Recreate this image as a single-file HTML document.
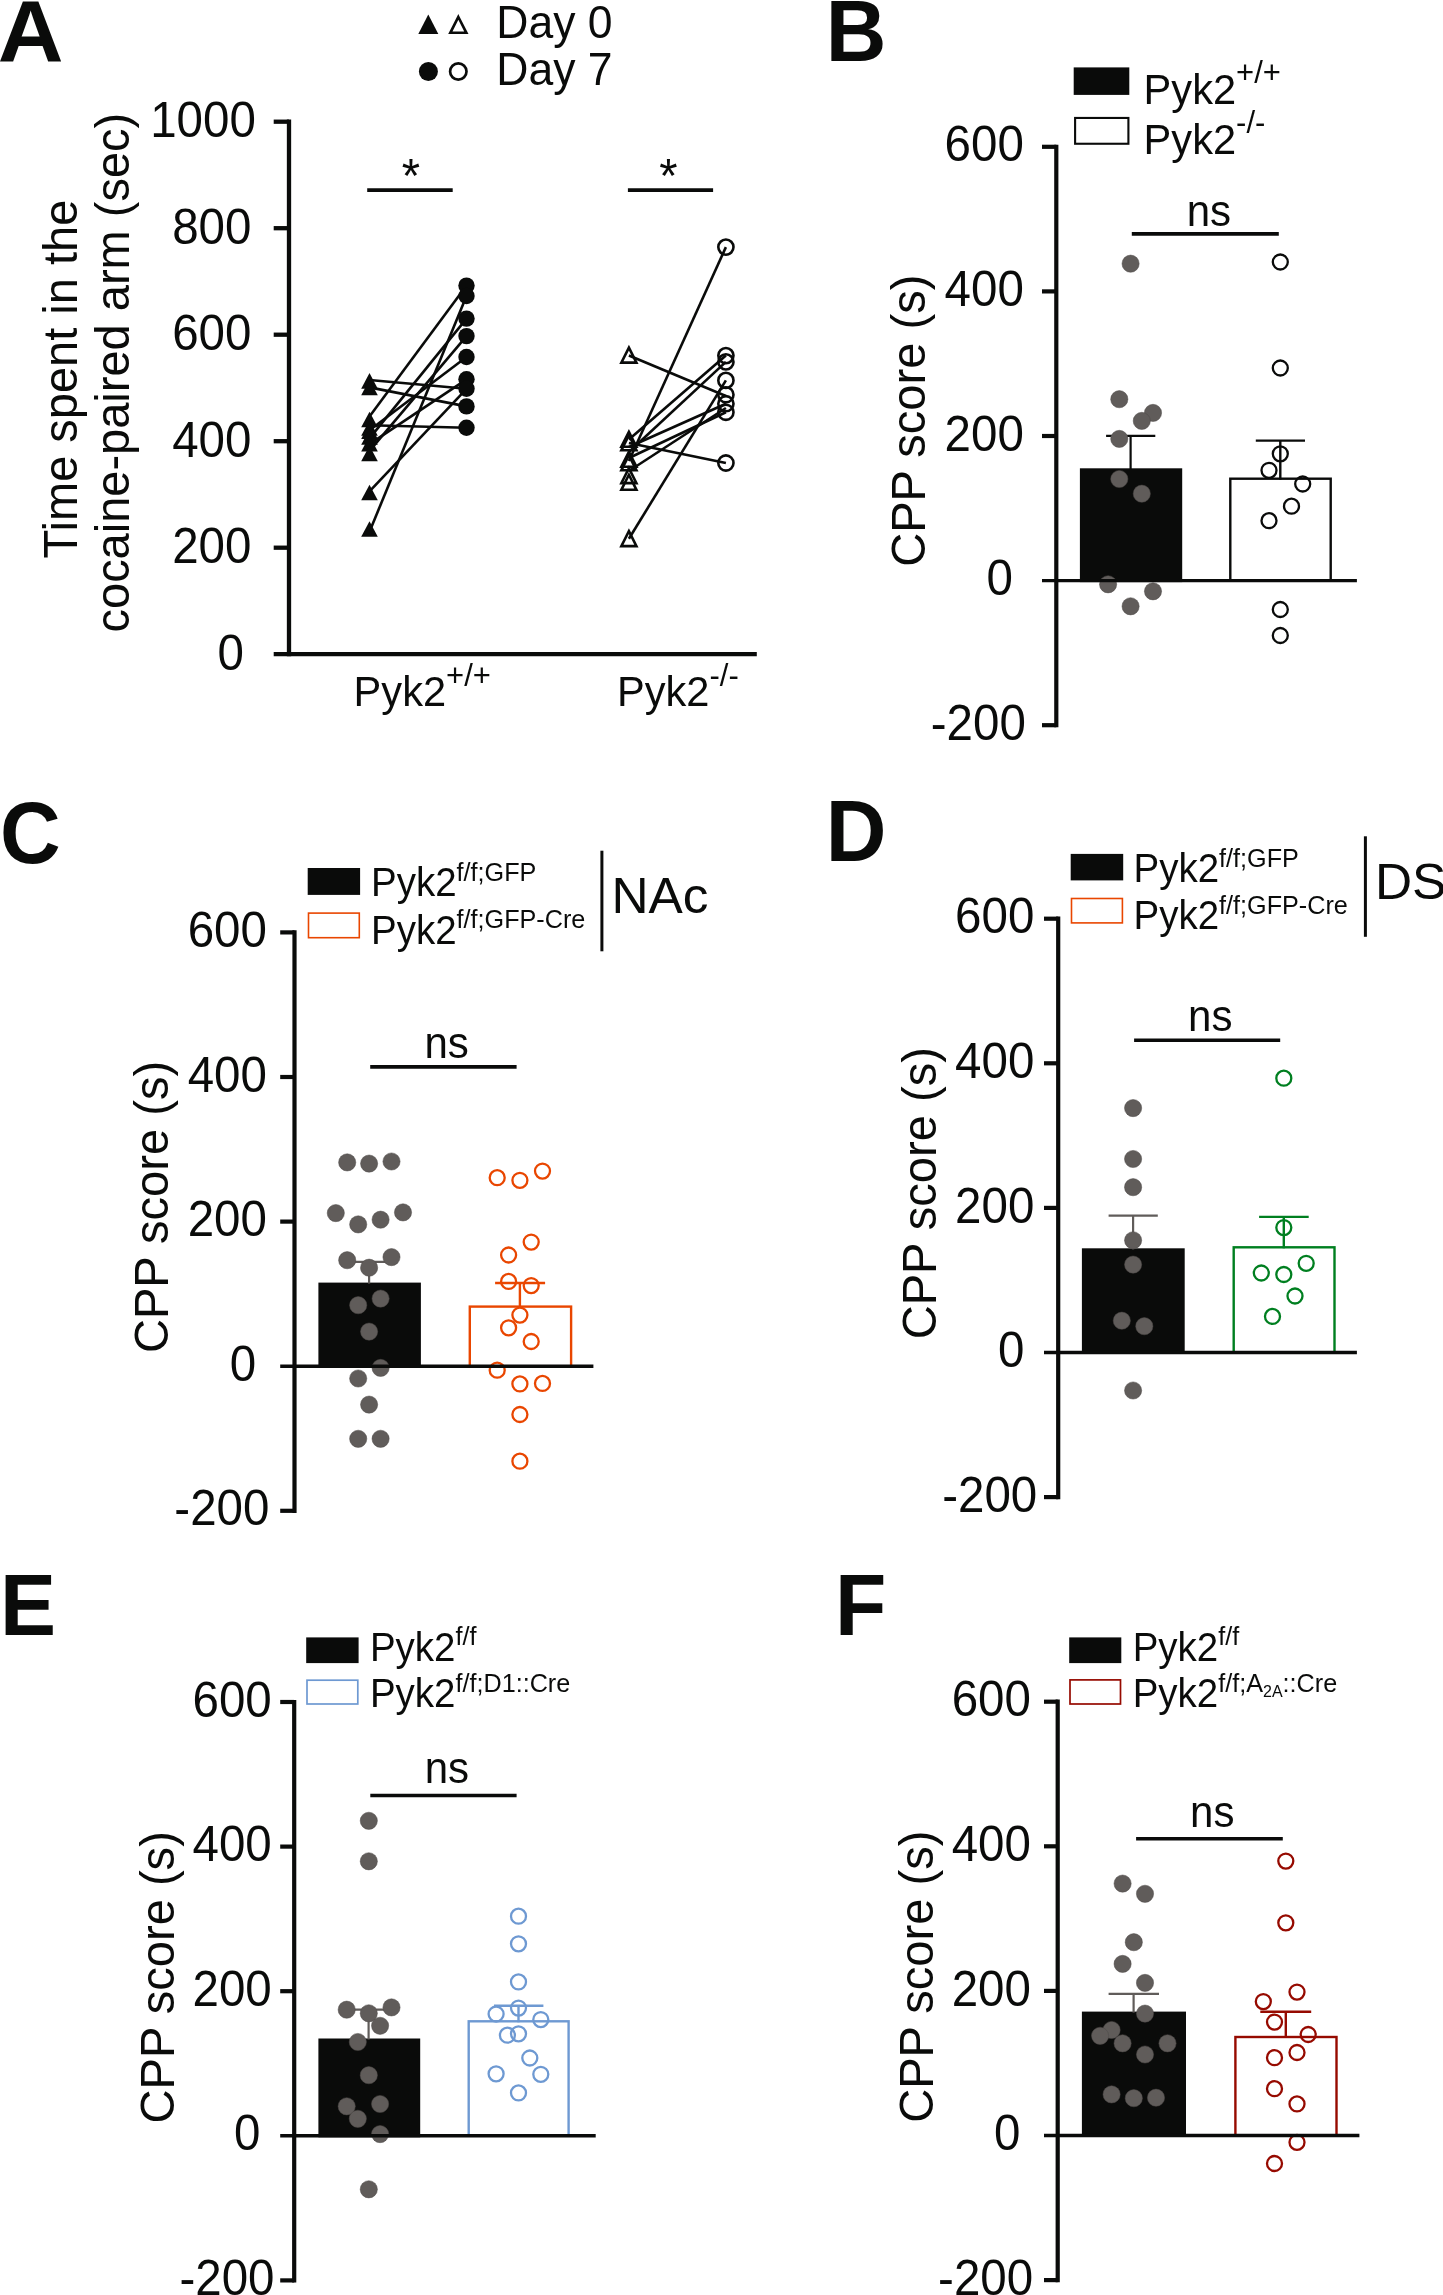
<!DOCTYPE html>
<html><head><meta charset="utf-8"><title>Figure</title>
<style>
html,body{margin:0;padding:0;background:#fff;}
svg{display:block;will-change:transform;}
text{font-family:"Liberation Sans",sans-serif;fill:#0a0b0a;}
</style></head>
<body>
<svg width="1443" height="2295" viewBox="0 0 1443 2295">
<rect x="0" y="0" width="1443" height="2295" fill="#ffffff"/>
<text transform="translate(-2.3 61) scale(1.085 1.04)" font-size="84" font-weight="bold">A</text>
<text transform="translate(825.8 60.7) scale(1 1.04)" font-size="84" text-anchor="start" font-weight="bold" >B</text>
<text transform="translate(0 863) scale(1 1.04)" font-size="84" text-anchor="start" font-weight="bold" >C</text>
<text transform="translate(825.8 860.7) scale(1 1.04)" font-size="84" text-anchor="start" font-weight="bold" >D</text>
<text transform="translate(0 1634.5) scale(1 1.04)" font-size="84" text-anchor="start" font-weight="bold" >E</text>
<text transform="translate(835.1 1634.5) scale(1 1.04)" font-size="84" text-anchor="start" font-weight="bold" >F</text>
<line x1="289.0" y1="119.5" x2="289.0" y2="656.3000000000001" stroke="#0a0b0a" stroke-width="4.3" stroke-linecap="butt"/>
<line x1="273.7" y1="654.2" x2="756.8" y2="654.2" stroke="#0a0b0a" stroke-width="4.3" stroke-linecap="butt"/>
<line x1="273.7" y1="547.7" x2="289.0" y2="547.7" stroke="#0a0b0a" stroke-width="4.3" stroke-linecap="butt"/>
<line x1="273.7" y1="441.2" x2="289.0" y2="441.2" stroke="#0a0b0a" stroke-width="4.3" stroke-linecap="butt"/>
<line x1="273.7" y1="334.7" x2="289.0" y2="334.7" stroke="#0a0b0a" stroke-width="4.3" stroke-linecap="butt"/>
<line x1="273.7" y1="228.2" x2="289.0" y2="228.2" stroke="#0a0b0a" stroke-width="4.3" stroke-linecap="butt"/>
<line x1="273.7" y1="121.7" x2="289.0" y2="121.7" stroke="#0a0b0a" stroke-width="4.3" stroke-linecap="butt"/>
<text transform="translate(243.8 669.5) scale(1 1.04)" font-size="47.5" text-anchor="end" >0</text>
<text transform="translate(251.4 563.0) scale(1 1.04)" font-size="47.5" text-anchor="end" >200</text>
<text transform="translate(251.4 456.5) scale(1 1.04)" font-size="47.5" text-anchor="end" >400</text>
<text transform="translate(251.4 350.0) scale(1 1.04)" font-size="47.5" text-anchor="end" >600</text>
<text transform="translate(251.4 243.5) scale(1 1.04)" font-size="47.5" text-anchor="end" >800</text>
<text transform="translate(255.8 137.0) scale(1 1.04)" font-size="47.5" text-anchor="end" >1000</text>
<text transform="translate(76.9 558.4) rotate(-90) scale(1 1.04)" font-size="47" text-anchor="start" >Time spent in the</text>
<text transform="translate(129.2 632.5) rotate(-90) scale(1 1.04)" font-size="47" text-anchor="start" >cocaine-paired arm (sec)</text>
<polygon points="428.3,14.600000000000001 438.3,34.1 418.3,34.1" fill="#0a0b0a"/>
<polygon points="458.35,16.97 466.38,32.8 450.32,32.8" fill="none" stroke="#0a0b0a" stroke-width="2.6" stroke-linejoin="miter" stroke-miterlimit="10"/>
<circle cx="428.4" cy="71.5" r="9.5" fill="#0a0b0a"/>
<circle cx="458.3" cy="71.5" r="8.2" fill="none" stroke="#0a0b0a" stroke-width="2.7"/>
<text transform="translate(496.3 37.8) scale(1 1.04)" font-size="44.5" text-anchor="start" >Day 0</text>
<text transform="translate(496.3 84.7) scale(1 1.04)" font-size="44.5" text-anchor="start" >Day 7</text>
<line x1="367.2" y1="190.1" x2="452.7" y2="190.1" stroke="#0a0b0a" stroke-width="3.8" stroke-linecap="butt"/>
<line x1="627.9" y1="190.1" x2="713.1" y2="190.1" stroke="#0a0b0a" stroke-width="3.8" stroke-linecap="butt"/>
<text transform="translate(410.8 191.8) scale(1 1.04)" font-size="47" text-anchor="middle" >*</text>
<text transform="translate(668.4 191.8) scale(1 1.04)" font-size="47" text-anchor="middle" >*</text>
<text transform="translate(353.6 705.5) scale(1 1.04)" font-size="41.6">Pyk2<tspan font-size="31" dy="-18.37" dx="0">+/+</tspan></text>
<text transform="translate(617 705.5) scale(1 1.04)" font-size="41.6">Pyk2<tspan font-size="31" dy="-18.37" dx="0">-/-</tspan></text>
<line x1="369.5" y1="380" x2="466.5" y2="388.8" stroke="#0a0b0a" stroke-width="2.6" stroke-linecap="butt"/>
<line x1="369.5" y1="387.4" x2="466.5" y2="406.4" stroke="#0a0b0a" stroke-width="2.6" stroke-linecap="butt"/>
<line x1="369.5" y1="416.5" x2="466.5" y2="285.6" stroke="#0a0b0a" stroke-width="2.6" stroke-linecap="butt"/>
<line x1="369.5" y1="425.2" x2="466.5" y2="427.7" stroke="#0a0b0a" stroke-width="2.6" stroke-linecap="butt"/>
<line x1="369.5" y1="430.2" x2="466.5" y2="357" stroke="#0a0b0a" stroke-width="2.6" stroke-linecap="butt"/>
<line x1="369.5" y1="438.4" x2="466.5" y2="318.6" stroke="#0a0b0a" stroke-width="2.6" stroke-linecap="butt"/>
<line x1="369.5" y1="444.2" x2="466.5" y2="379.3" stroke="#0a0b0a" stroke-width="2.6" stroke-linecap="butt"/>
<line x1="369.5" y1="450.8" x2="466.5" y2="336.1" stroke="#0a0b0a" stroke-width="2.6" stroke-linecap="butt"/>
<line x1="369.5" y1="491.4" x2="466.5" y2="388.8" stroke="#0a0b0a" stroke-width="2.6" stroke-linecap="butt"/>
<line x1="369.5" y1="531.7" x2="466.5" y2="296" stroke="#0a0b0a" stroke-width="2.6" stroke-linecap="butt"/>
<polygon points="369.5,373.04999999999995 377.8,388.75 361.2,388.75" fill="#0a0b0a"/>
<polygon points="369.5,379.65 377.8,395.35 361.2,395.35" fill="#0a0b0a"/>
<polygon points="369.5,411.65 377.8,427.35 361.2,427.35" fill="#0a0b0a"/>
<polygon points="369.5,420.15 377.8,435.85 361.2,435.85" fill="#0a0b0a"/>
<polygon points="369.5,423.34999999999997 377.8,439.05 361.2,439.05" fill="#0a0b0a"/>
<polygon points="369.5,429.15 377.8,444.85 361.2,444.85" fill="#0a0b0a"/>
<polygon points="369.5,435.84999999999997 377.8,451.55 361.2,451.55" fill="#0a0b0a"/>
<polygon points="369.5,445.65 377.8,461.35 361.2,461.35" fill="#0a0b0a"/>
<polygon points="369.5,484.65 377.8,500.35 361.2,500.35" fill="#0a0b0a"/>
<polygon points="369.5,521.15 377.8,536.85 361.2,536.85" fill="#0a0b0a"/>
<circle cx="466.5" cy="285.6" r="8.2" fill="#0a0b0a"/>
<circle cx="466.5" cy="296" r="8.2" fill="#0a0b0a"/>
<circle cx="466.5" cy="318.6" r="8.2" fill="#0a0b0a"/>
<circle cx="466.5" cy="336.1" r="8.2" fill="#0a0b0a"/>
<circle cx="466.5" cy="357" r="8.2" fill="#0a0b0a"/>
<circle cx="466.5" cy="379.3" r="8.2" fill="#0a0b0a"/>
<circle cx="466.5" cy="388.8" r="8.2" fill="#0a0b0a"/>
<circle cx="466.5" cy="406.4" r="8.2" fill="#0a0b0a"/>
<circle cx="466.5" cy="427.7" r="8.2" fill="#0a0b0a"/>
<line x1="628.9" y1="355.5" x2="725.9" y2="396" stroke="#0a0b0a" stroke-width="2.6" stroke-linecap="butt"/>
<line x1="628.9" y1="538.8" x2="725.9" y2="380.4" stroke="#0a0b0a" stroke-width="2.6" stroke-linecap="butt"/>
<line x1="628.9" y1="461" x2="725.9" y2="247.1" stroke="#0a0b0a" stroke-width="2.6" stroke-linecap="butt"/>
<line x1="628.9" y1="439.5" x2="725.9" y2="355.6" stroke="#0a0b0a" stroke-width="2.6" stroke-linecap="butt"/>
<line x1="628.9" y1="443" x2="725.9" y2="463" stroke="#0a0b0a" stroke-width="2.6" stroke-linecap="butt"/>
<line x1="628.9" y1="452" x2="725.9" y2="361.9" stroke="#0a0b0a" stroke-width="2.6" stroke-linecap="butt"/>
<line x1="628.9" y1="447" x2="725.9" y2="403.7" stroke="#0a0b0a" stroke-width="2.6" stroke-linecap="butt"/>
<line x1="628.9" y1="458" x2="725.9" y2="412.3" stroke="#0a0b0a" stroke-width="2.6" stroke-linecap="butt"/>
<line x1="628.9" y1="471" x2="725.9" y2="408" stroke="#0a0b0a" stroke-width="2.6" stroke-linecap="butt"/>
<polygon points="628.9,347.59 636.44,362.6 621.36,362.6" fill="none" stroke="#0a0b0a" stroke-width="2.6" stroke-linejoin="miter" stroke-miterlimit="10"/>
<polygon points="628.9,431.79 636.44,446.8 621.36,446.8" fill="none" stroke="#0a0b0a" stroke-width="2.6" stroke-linejoin="miter" stroke-miterlimit="10"/>
<polygon points="628.9,435.29 636.44,450.3 621.36,450.3" fill="none" stroke="#0a0b0a" stroke-width="2.6" stroke-linejoin="miter" stroke-miterlimit="10"/>
<polygon points="628.9,451.79 636.44,466.8 621.36,466.8" fill="none" stroke="#0a0b0a" stroke-width="2.6" stroke-linejoin="miter" stroke-miterlimit="10"/>
<polygon points="628.9,455.29 636.44,470.3 621.36,470.3" fill="none" stroke="#0a0b0a" stroke-width="2.6" stroke-linejoin="miter" stroke-miterlimit="10"/>
<polygon points="628.9,468.09 636.44,483.1 621.36,483.1" fill="none" stroke="#0a0b0a" stroke-width="2.6" stroke-linejoin="miter" stroke-miterlimit="10"/>
<polygon points="628.9,474.79 636.44,489.8 621.36,489.8" fill="none" stroke="#0a0b0a" stroke-width="2.6" stroke-linejoin="miter" stroke-miterlimit="10"/>
<polygon points="628.9,531.09 636.44,546.1 621.36,546.1" fill="none" stroke="#0a0b0a" stroke-width="2.6" stroke-linejoin="miter" stroke-miterlimit="10"/>
<circle cx="725.9" cy="247.1" r="7.6" fill="none" stroke="#0a0b0a" stroke-width="2.6"/>
<circle cx="725.9" cy="355.6" r="7.6" fill="none" stroke="#0a0b0a" stroke-width="2.6"/>
<circle cx="725.9" cy="361.9" r="7.6" fill="none" stroke="#0a0b0a" stroke-width="2.6"/>
<circle cx="725.9" cy="380.4" r="7.6" fill="none" stroke="#0a0b0a" stroke-width="2.6"/>
<circle cx="725.9" cy="394.8" r="7.6" fill="none" stroke="#0a0b0a" stroke-width="2.6"/>
<circle cx="725.9" cy="403.7" r="7.6" fill="none" stroke="#0a0b0a" stroke-width="2.6"/>
<circle cx="725.9" cy="412.3" r="7.6" fill="none" stroke="#0a0b0a" stroke-width="2.6"/>
<circle cx="725.9" cy="463" r="7.6" fill="none" stroke="#0a0b0a" stroke-width="2.6"/>
<rect x="1079.9" y="468.3" width="102.3" height="113.8" fill="#0a0b0a"/>
<rect x="1230.3" y="478.7" width="100.4" height="101.9" fill="none" stroke="#0a0b0a" stroke-width="2.4"/>
<line x1="1130.6" y1="435.9" x2="1130.6" y2="469.3" stroke="#0a0b0a" stroke-width="2.2" stroke-linecap="butt"/>
<line x1="1106.1" y1="435.9" x2="1155.3" y2="435.9" stroke="#0a0b0a" stroke-width="2.2" stroke-linecap="butt"/>
<line x1="1280.3" y1="440.6" x2="1280.3" y2="479.7" stroke="#0a0b0a" stroke-width="2.4" stroke-linecap="butt"/>
<line x1="1255.8" y1="440.6" x2="1305" y2="440.6" stroke="#0a0b0a" stroke-width="2.4" stroke-linecap="butt"/>
<circle cx="1130.6" cy="263.7" r="8.6" fill="#605c5a" stroke="#4e4a48" stroke-width="0.5"/>
<circle cx="1119.3" cy="399.2" r="8.6" fill="#605c5a" stroke="#4e4a48" stroke-width="0.5"/>
<circle cx="1153" cy="412.9" r="8.6" fill="#605c5a" stroke="#4e4a48" stroke-width="0.5"/>
<circle cx="1141.8" cy="420.9" r="8.6" fill="#605c5a" stroke="#4e4a48" stroke-width="0.5"/>
<circle cx="1119.3" cy="438.9" r="8.6" fill="#605c5a" stroke="#4e4a48" stroke-width="0.5"/>
<circle cx="1119.3" cy="479" r="8.6" fill="#605c5a" stroke="#4e4a48" stroke-width="0.5"/>
<circle cx="1141.8" cy="493.7" r="8.6" fill="#605c5a" stroke="#4e4a48" stroke-width="0.5"/>
<circle cx="1108.1" cy="584.3" r="8.6" fill="#605c5a" stroke="#4e4a48" stroke-width="0.5"/>
<circle cx="1153" cy="591.3" r="8.6" fill="#605c5a" stroke="#4e4a48" stroke-width="0.5"/>
<circle cx="1130.6" cy="606.3" r="8.6" fill="#605c5a" stroke="#4e4a48" stroke-width="0.5"/>
<circle cx="1280.3" cy="262" r="7.5" fill="none" stroke="#0a0b0a" stroke-width="2.3"/>
<circle cx="1280.3" cy="368" r="7.5" fill="none" stroke="#0a0b0a" stroke-width="2.3"/>
<circle cx="1280.3" cy="453.8" r="7.5" fill="none" stroke="#0a0b0a" stroke-width="2.3"/>
<circle cx="1269" cy="470.3" r="7.5" fill="none" stroke="#0a0b0a" stroke-width="2.3"/>
<circle cx="1302.7" cy="484" r="7.5" fill="none" stroke="#0a0b0a" stroke-width="2.3"/>
<circle cx="1291.5" cy="506.2" r="7.5" fill="none" stroke="#0a0b0a" stroke-width="2.3"/>
<circle cx="1269" cy="520.7" r="7.5" fill="none" stroke="#0a0b0a" stroke-width="2.3"/>
<circle cx="1280.3" cy="609.5" r="7.5" fill="none" stroke="#0a0b0a" stroke-width="2.3"/>
<circle cx="1280.3" cy="635.5" r="7.5" fill="none" stroke="#0a0b0a" stroke-width="2.3"/>
<line x1="1056.3" y1="144.70000000000002" x2="1056.3" y2="727.3000000000001" stroke="#0a0b0a" stroke-width="4.2" stroke-linecap="butt"/>
<line x1="1042" y1="146.8" x2="1056.3" y2="146.8" stroke="#0a0b0a" stroke-width="4.2" stroke-linecap="butt"/>
<line x1="1042" y1="291.4" x2="1056.3" y2="291.4" stroke="#0a0b0a" stroke-width="4.2" stroke-linecap="butt"/>
<line x1="1042" y1="436.0" x2="1056.3" y2="436.0" stroke="#0a0b0a" stroke-width="4.2" stroke-linecap="butt"/>
<line x1="1042" y1="725.2" x2="1056.3" y2="725.2" stroke="#0a0b0a" stroke-width="4.2" stroke-linecap="butt"/>
<line x1="1042" y1="580.6" x2="1356.9" y2="580.6" stroke="#0a0b0a" stroke-width="3.4" stroke-linecap="butt"/>
<text transform="translate(1023.8 161.4) scale(1 1.04)" font-size="47.5" text-anchor="end" >600</text>
<text transform="translate(1023.8 306.0) scale(1 1.04)" font-size="47.5" text-anchor="end" >400</text>
<text transform="translate(1023.8 450.6) scale(1 1.04)" font-size="47.5" text-anchor="end" >200</text>
<text transform="translate(1012.9 595.2) scale(1 1.04)" font-size="47.5" text-anchor="end" >0</text>
<text transform="translate(1025.8 739.8000000000001) scale(1 1.04)" font-size="47.5" text-anchor="end" >-200</text>
<text transform="translate(925.2 566.8) rotate(-90) scale(1 1.04)" font-size="47.1" text-anchor="start" >CPP score (s)</text>
<line x1="1131.8" y1="233.9" x2="1278.8" y2="233.9" stroke="#0a0b0a" stroke-width="3.6" stroke-linecap="butt"/>
<text transform="translate(1208.9 225.9) scale(1 1.04)" font-size="42" text-anchor="middle" >ns</text>
<rect x="1073.7" y="67.4" width="55.6" height="27.5" fill="#0a0b0a"/>
<rect x="1075.1" y="117.95" width="53.3" height="25.8" fill="none" stroke="#0a0b0a" stroke-width="2.1"/>
<text transform="translate(1143.6 103.6) scale(1 1.04)" font-size="41.6">Pyk2<tspan font-size="31" dy="-19.62" dx="0">+/+</tspan></text>
<text transform="translate(1143.6 153.5) scale(1 1.04)" font-size="41.6">Pyk2<tspan font-size="31" dy="-19.62" dx="0">-/-</tspan></text>
<rect x="318.4" y="1282.6" width="102.5" height="85.1" fill="#0a0b0a"/>
<rect x="469.8" y="1306.6" width="101.3" height="59.6" fill="none" stroke="#e94600" stroke-width="2.4"/>
<line x1="369.1" y1="1261.8" x2="369.1" y2="1283.6" stroke="#605c5a" stroke-width="2.2" stroke-linecap="butt"/>
<line x1="347.2" y1="1261.8" x2="391.9" y2="1261.8" stroke="#605c5a" stroke-width="2.2" stroke-linecap="butt"/>
<line x1="519.9" y1="1283" x2="519.9" y2="1307.6" stroke="#e94600" stroke-width="2.4" stroke-linecap="butt"/>
<line x1="495.1" y1="1283" x2="545.1" y2="1283" stroke="#e94600" stroke-width="2.4" stroke-linecap="butt"/>
<circle cx="347.2" cy="1162.4" r="8.6" fill="#605c5a" stroke="#4e4a48" stroke-width="0.5"/>
<circle cx="369.1" cy="1163.6" r="8.6" fill="#605c5a" stroke="#4e4a48" stroke-width="0.5"/>
<circle cx="391.5" cy="1161.5" r="8.6" fill="#605c5a" stroke="#4e4a48" stroke-width="0.5"/>
<circle cx="335.8" cy="1213.1" r="8.6" fill="#605c5a" stroke="#4e4a48" stroke-width="0.5"/>
<circle cx="358.2" cy="1224.4" r="8.6" fill="#605c5a" stroke="#4e4a48" stroke-width="0.5"/>
<circle cx="380.6" cy="1219.7" r="8.6" fill="#605c5a" stroke="#4e4a48" stroke-width="0.5"/>
<circle cx="403" cy="1212.4" r="8.6" fill="#605c5a" stroke="#4e4a48" stroke-width="0.5"/>
<circle cx="347.2" cy="1260.2" r="8.6" fill="#605c5a" stroke="#4e4a48" stroke-width="0.5"/>
<circle cx="369.1" cy="1267.7" r="8.6" fill="#605c5a" stroke="#4e4a48" stroke-width="0.5"/>
<circle cx="391.5" cy="1257.1" r="8.6" fill="#605c5a" stroke="#4e4a48" stroke-width="0.5"/>
<circle cx="358.2" cy="1305.2" r="8.6" fill="#605c5a" stroke="#4e4a48" stroke-width="0.5"/>
<circle cx="380.6" cy="1298.6" r="8.6" fill="#605c5a" stroke="#4e4a48" stroke-width="0.5"/>
<circle cx="369.1" cy="1331.6" r="8.6" fill="#605c5a" stroke="#4e4a48" stroke-width="0.5"/>
<circle cx="380.6" cy="1367.9" r="8.6" fill="#605c5a" stroke="#4e4a48" stroke-width="0.5"/>
<circle cx="358.2" cy="1378.5" r="8.6" fill="#605c5a" stroke="#4e4a48" stroke-width="0.5"/>
<circle cx="369.1" cy="1404.6" r="8.6" fill="#605c5a" stroke="#4e4a48" stroke-width="0.5"/>
<circle cx="358.2" cy="1438.8" r="8.6" fill="#605c5a" stroke="#4e4a48" stroke-width="0.5"/>
<circle cx="380.6" cy="1438.8" r="8.6" fill="#605c5a" stroke="#4e4a48" stroke-width="0.5"/>
<circle cx="497.2" cy="1177.7" r="7.5" fill="none" stroke="#e94600" stroke-width="2.3"/>
<circle cx="519.9" cy="1180.3" r="7.5" fill="none" stroke="#e94600" stroke-width="2.3"/>
<circle cx="542.5" cy="1171.1" r="7.5" fill="none" stroke="#e94600" stroke-width="2.3"/>
<circle cx="531.2" cy="1242.1" r="7.5" fill="none" stroke="#e94600" stroke-width="2.3"/>
<circle cx="508.6" cy="1255" r="7.5" fill="none" stroke="#e94600" stroke-width="2.3"/>
<circle cx="508.6" cy="1281.4" r="7.5" fill="none" stroke="#e94600" stroke-width="2.3"/>
<circle cx="531.2" cy="1285.6" r="7.5" fill="none" stroke="#e94600" stroke-width="2.3"/>
<circle cx="519.9" cy="1315.1" r="7.5" fill="none" stroke="#e94600" stroke-width="2.3"/>
<circle cx="508.6" cy="1327.8" r="7.5" fill="none" stroke="#e94600" stroke-width="2.3"/>
<circle cx="531.2" cy="1341.5" r="7.5" fill="none" stroke="#e94600" stroke-width="2.3"/>
<circle cx="497.2" cy="1370.2" r="7.5" fill="none" stroke="#e94600" stroke-width="2.3"/>
<circle cx="519.9" cy="1383.9" r="7.5" fill="none" stroke="#e94600" stroke-width="2.3"/>
<circle cx="542.5" cy="1383.4" r="7.5" fill="none" stroke="#e94600" stroke-width="2.3"/>
<circle cx="519.9" cy="1414.5" r="7.5" fill="none" stroke="#e94600" stroke-width="2.3"/>
<circle cx="519.9" cy="1461.2" r="7.5" fill="none" stroke="#e94600" stroke-width="2.3"/>
<line x1="294.5" y1="930.3" x2="294.5" y2="1512.8999999999999" stroke="#0a0b0a" stroke-width="4.2" stroke-linecap="butt"/>
<line x1="280.2" y1="932.4" x2="294.5" y2="932.4" stroke="#0a0b0a" stroke-width="4.2" stroke-linecap="butt"/>
<line x1="280.2" y1="1077.0" x2="294.5" y2="1077.0" stroke="#0a0b0a" stroke-width="4.2" stroke-linecap="butt"/>
<line x1="280.2" y1="1221.6" x2="294.5" y2="1221.6" stroke="#0a0b0a" stroke-width="4.2" stroke-linecap="butt"/>
<line x1="280.2" y1="1510.8" x2="294.5" y2="1510.8" stroke="#0a0b0a" stroke-width="4.2" stroke-linecap="butt"/>
<line x1="280.2" y1="1366.2" x2="593.4" y2="1366.2" stroke="#0a0b0a" stroke-width="3.4" stroke-linecap="butt"/>
<text transform="translate(266.9 947.0) scale(1 1.04)" font-size="47.5" text-anchor="end" >600</text>
<text transform="translate(266.9 1091.6) scale(1 1.04)" font-size="47.5" text-anchor="end" >400</text>
<text transform="translate(266.9 1236.1999999999998) scale(1 1.04)" font-size="47.5" text-anchor="end" >200</text>
<text transform="translate(256.09999999999997 1380.8) scale(1 1.04)" font-size="47.5" text-anchor="end" >0</text>
<text transform="translate(269.4 1525.3999999999999) scale(1 1.04)" font-size="47.5" text-anchor="end" >-200</text>
<text transform="translate(168.1 1353.1) rotate(-90) scale(1 1.04)" font-size="47.1" text-anchor="start" >CPP score (s)</text>
<line x1="370.2" y1="1066.9" x2="516.6" y2="1066.9" stroke="#0a0b0a" stroke-width="3.6" stroke-linecap="butt"/>
<text transform="translate(446.6 1058) scale(1 1.04)" font-size="42" text-anchor="middle" >ns</text>
<rect x="307.7" y="868" width="52.4" height="26.9" fill="#0a0b0a"/>
<rect x="308.5" y="913.1" width="50.8" height="24.6" fill="none" stroke="#e94600" stroke-width="1.6"/>
<text transform="translate(371 896.4) scale(1 1.04)" font-size="38.5">Pyk2<tspan font-size="25.2" dy="-14.62" dx="0">f/f;GFP</tspan></text>
<text transform="translate(371 943.7) scale(1 1.04)" font-size="38.5">Pyk2<tspan font-size="25.2" dy="-14.71" dx="0">f/f;GFP-Cre</tspan></text>
<line x1="601.9" y1="850.7" x2="601.9" y2="951.3" stroke="#0a0b0a" stroke-width="3" stroke-linecap="butt"/>
<text transform="translate(611.4 913.2) scale(1 0.975)" font-size="51.4" text-anchor="start" >NAc</text>
<rect x="1081.9" y="1248.3" width="102.8" height="105.7" fill="#0a0b0a"/>
<rect x="1233.7" y="1247.3" width="100.8" height="105.2" fill="none" stroke="#007f20" stroke-width="2.4"/>
<line x1="1133.1" y1="1215.6" x2="1133.1" y2="1249.3" stroke="#605c5a" stroke-width="2.2" stroke-linecap="butt"/>
<line x1="1108.6" y1="1215.6" x2="1157.8" y2="1215.6" stroke="#605c5a" stroke-width="2.2" stroke-linecap="butt"/>
<line x1="1283.8" y1="1216.9" x2="1283.8" y2="1248.3" stroke="#007f20" stroke-width="2.4" stroke-linecap="butt"/>
<line x1="1259.1" y1="1216.9" x2="1308.7" y2="1216.9" stroke="#007f20" stroke-width="2.4" stroke-linecap="butt"/>
<circle cx="1133.1" cy="1108.1" r="8.6" fill="#605c5a" stroke="#4e4a48" stroke-width="0.5"/>
<circle cx="1133.1" cy="1159" r="8.6" fill="#605c5a" stroke="#4e4a48" stroke-width="0.5"/>
<circle cx="1133.1" cy="1187.2" r="8.6" fill="#605c5a" stroke="#4e4a48" stroke-width="0.5"/>
<circle cx="1133.1" cy="1240.3" r="8.6" fill="#605c5a" stroke="#4e4a48" stroke-width="0.5"/>
<circle cx="1133.1" cy="1264.6" r="8.6" fill="#605c5a" stroke="#4e4a48" stroke-width="0.5"/>
<circle cx="1121.8" cy="1320.7" r="8.6" fill="#605c5a" stroke="#4e4a48" stroke-width="0.5"/>
<circle cx="1144.3" cy="1326.2" r="8.6" fill="#605c5a" stroke="#4e4a48" stroke-width="0.5"/>
<circle cx="1133.1" cy="1390.5" r="8.6" fill="#605c5a" stroke="#4e4a48" stroke-width="0.5"/>
<circle cx="1283.8" cy="1078.2" r="7.5" fill="none" stroke="#007f20" stroke-width="2.3"/>
<circle cx="1283.8" cy="1227.6" r="7.5" fill="none" stroke="#007f20" stroke-width="2.3"/>
<circle cx="1306.2" cy="1263.3" r="7.5" fill="none" stroke="#007f20" stroke-width="2.3"/>
<circle cx="1261.3" cy="1273" r="7.5" fill="none" stroke="#007f20" stroke-width="2.3"/>
<circle cx="1283.8" cy="1274.5" r="7.5" fill="none" stroke="#007f20" stroke-width="2.3"/>
<circle cx="1295" cy="1296" r="7.5" fill="none" stroke="#007f20" stroke-width="2.3"/>
<circle cx="1272.5" cy="1316.4" r="7.5" fill="none" stroke="#007f20" stroke-width="2.3"/>
<line x1="1058.2" y1="916.6" x2="1058.2" y2="1499.1999999999998" stroke="#0a0b0a" stroke-width="4.2" stroke-linecap="butt"/>
<line x1="1044" y1="918.7" x2="1058.2" y2="918.7" stroke="#0a0b0a" stroke-width="4.2" stroke-linecap="butt"/>
<line x1="1044" y1="1063.3" x2="1058.2" y2="1063.3" stroke="#0a0b0a" stroke-width="4.2" stroke-linecap="butt"/>
<line x1="1044" y1="1207.9" x2="1058.2" y2="1207.9" stroke="#0a0b0a" stroke-width="4.2" stroke-linecap="butt"/>
<line x1="1044" y1="1497.1" x2="1058.2" y2="1497.1" stroke="#0a0b0a" stroke-width="4.2" stroke-linecap="butt"/>
<line x1="1044" y1="1352.5" x2="1356.9" y2="1352.5" stroke="#0a0b0a" stroke-width="3.4" stroke-linecap="butt"/>
<text transform="translate(1034.3000000000002 933.3000000000001) scale(1 1.04)" font-size="47.5" text-anchor="end" >600</text>
<text transform="translate(1034.3000000000002 1077.8999999999999) scale(1 1.04)" font-size="47.5" text-anchor="end" >400</text>
<text transform="translate(1034.3000000000002 1222.5) scale(1 1.04)" font-size="47.5" text-anchor="end" >200</text>
<text transform="translate(1024.3 1367.1) scale(1 1.04)" font-size="47.5" text-anchor="end" >0</text>
<text transform="translate(1037.2 1511.6999999999998) scale(1 1.04)" font-size="47.5" text-anchor="end" >-200</text>
<text transform="translate(936.3 1339.3) rotate(-90) scale(1 1.04)" font-size="47.1" text-anchor="start" >CPP score (s)</text>
<line x1="1134.1" y1="1040.2" x2="1280.2" y2="1040.2" stroke="#0a0b0a" stroke-width="3.6" stroke-linecap="butt"/>
<text transform="translate(1210.2 1031.2) scale(1 1.04)" font-size="42" text-anchor="middle" >ns</text>
<rect x="1070.7" y="853.9" width="52.5" height="26.5" fill="#0a0b0a"/>
<rect x="1071.5" y="898.5" width="50.9" height="24.4" fill="none" stroke="#e94600" stroke-width="1.6"/>
<text transform="translate(1133.5 882.4) scale(1 1.04)" font-size="38.5">Pyk2<tspan font-size="25.2" dy="-14.81" dx="0">f/f;GFP</tspan></text>
<text transform="translate(1133.5 929) scale(1 1.04)" font-size="38.5">Pyk2<tspan font-size="25.2" dy="-14.71" dx="0">f/f;GFP-Cre</tspan></text>
<line x1="1365.4" y1="836.3" x2="1365.4" y2="936.8" stroke="#0a0b0a" stroke-width="3" stroke-linecap="butt"/>
<text transform="translate(1375.0 899.1) scale(1 0.975)" font-size="51.4" text-anchor="start" >DS</text>
<rect x="318.4" y="2038.5" width="101.8" height="98.8" fill="#0a0b0a"/>
<rect x="468.7" y="2021.3" width="99.9" height="114.5" fill="none" stroke="#6e99d2" stroke-width="2.4"/>
<line x1="368.6" y1="2009.7" x2="368.6" y2="2039.5" stroke="#605c5a" stroke-width="2.2" stroke-linecap="butt"/>
<line x1="347.2" y1="2009.7" x2="390.7" y2="2009.7" stroke="#605c5a" stroke-width="2.2" stroke-linecap="butt"/>
<line x1="518.5" y1="2005.7" x2="518.5" y2="2022.3" stroke="#6e99d2" stroke-width="2.4" stroke-linecap="butt"/>
<line x1="494" y1="2005.7" x2="543.4" y2="2005.7" stroke="#6e99d2" stroke-width="2.4" stroke-linecap="butt"/>
<circle cx="368.8" cy="1820.8" r="8.6" fill="#605c5a" stroke="#4e4a48" stroke-width="0.5"/>
<circle cx="368.8" cy="1861.3" r="8.6" fill="#605c5a" stroke="#4e4a48" stroke-width="0.5"/>
<circle cx="346.7" cy="2009.7" r="8.6" fill="#605c5a" stroke="#4e4a48" stroke-width="0.5"/>
<circle cx="368.8" cy="2013.3" r="8.6" fill="#605c5a" stroke="#4e4a48" stroke-width="0.5"/>
<circle cx="391.5" cy="2007.4" r="8.6" fill="#605c5a" stroke="#4e4a48" stroke-width="0.5"/>
<circle cx="380.1" cy="2025.8" r="8.6" fill="#605c5a" stroke="#4e4a48" stroke-width="0.5"/>
<circle cx="357.8" cy="2042" r="8.6" fill="#605c5a" stroke="#4e4a48" stroke-width="0.5"/>
<circle cx="368.8" cy="2075.2" r="8.6" fill="#605c5a" stroke="#4e4a48" stroke-width="0.5"/>
<circle cx="346.7" cy="2106.3" r="8.6" fill="#605c5a" stroke="#4e4a48" stroke-width="0.5"/>
<circle cx="380.1" cy="2104" r="8.6" fill="#605c5a" stroke="#4e4a48" stroke-width="0.5"/>
<circle cx="357.8" cy="2118.8" r="8.6" fill="#605c5a" stroke="#4e4a48" stroke-width="0.5"/>
<circle cx="380.1" cy="2134.1" r="8.6" fill="#605c5a" stroke="#4e4a48" stroke-width="0.5"/>
<circle cx="368.8" cy="2189.3" r="8.6" fill="#605c5a" stroke="#4e4a48" stroke-width="0.5"/>
<circle cx="518.5" cy="1916.2" r="7.5" fill="none" stroke="#6e99d2" stroke-width="2.3"/>
<circle cx="518.5" cy="1943.8" r="7.5" fill="none" stroke="#6e99d2" stroke-width="2.3"/>
<circle cx="518.5" cy="1981.9" r="7.5" fill="none" stroke="#6e99d2" stroke-width="2.3"/>
<circle cx="518.5" cy="2008.1" r="7.5" fill="none" stroke="#6e99d2" stroke-width="2.3"/>
<circle cx="496.1" cy="2014" r="7.5" fill="none" stroke="#6e99d2" stroke-width="2.3"/>
<circle cx="540.8" cy="2019.6" r="7.5" fill="none" stroke="#6e99d2" stroke-width="2.3"/>
<circle cx="518.5" cy="2033.8" r="7.5" fill="none" stroke="#6e99d2" stroke-width="2.3"/>
<circle cx="507.4" cy="2035.2" r="7.5" fill="none" stroke="#6e99d2" stroke-width="2.3"/>
<circle cx="529.8" cy="2058" r="7.5" fill="none" stroke="#6e99d2" stroke-width="2.3"/>
<circle cx="496.1" cy="2073.8" r="7.5" fill="none" stroke="#6e99d2" stroke-width="2.3"/>
<circle cx="540.8" cy="2074.3" r="7.5" fill="none" stroke="#6e99d2" stroke-width="2.3"/>
<circle cx="518.5" cy="2092.9" r="7.5" fill="none" stroke="#6e99d2" stroke-width="2.3"/>
<line x1="294.2" y1="1699.9" x2="294.2" y2="2282.5" stroke="#0a0b0a" stroke-width="4.2" stroke-linecap="butt"/>
<line x1="280.2" y1="1702.0" x2="294.2" y2="1702.0" stroke="#0a0b0a" stroke-width="4.2" stroke-linecap="butt"/>
<line x1="280.2" y1="1846.6" x2="294.2" y2="1846.6" stroke="#0a0b0a" stroke-width="4.2" stroke-linecap="butt"/>
<line x1="280.2" y1="1991.2" x2="294.2" y2="1991.2" stroke="#0a0b0a" stroke-width="4.2" stroke-linecap="butt"/>
<line x1="280.2" y1="2280.4" x2="294.2" y2="2280.4" stroke="#0a0b0a" stroke-width="4.2" stroke-linecap="butt"/>
<line x1="280.2" y1="2135.8" x2="595.7" y2="2135.8" stroke="#0a0b0a" stroke-width="3.4" stroke-linecap="butt"/>
<text transform="translate(271.7 1716.6) scale(1 1.04)" font-size="47.5" text-anchor="end" >600</text>
<text transform="translate(271.7 1861.1999999999998) scale(1 1.04)" font-size="47.5" text-anchor="end" >400</text>
<text transform="translate(271.7 2005.8) scale(1 1.04)" font-size="47.5" text-anchor="end" >200</text>
<text transform="translate(260.29999999999995 2150.4) scale(1 1.04)" font-size="47.5" text-anchor="end" >0</text>
<text transform="translate(274.5 2295.0) scale(1 1.04)" font-size="47.5" text-anchor="end" >-200</text>
<text transform="translate(173.6 2123.4) rotate(-90) scale(1 1.04)" font-size="47.1" text-anchor="start" >CPP score (s)</text>
<line x1="370.3" y1="1795.5" x2="516.6" y2="1795.5" stroke="#0a0b0a" stroke-width="3.6" stroke-linecap="butt"/>
<text transform="translate(446.8 1783.4) scale(1 1.04)" font-size="42" text-anchor="middle" >ns</text>
<rect x="306.2" y="1637.4" width="52.4" height="25.7" fill="#0a0b0a"/>
<rect x="307" y="1680.2" width="50.8" height="23.8" fill="none" stroke="#6e99d2" stroke-width="1.7"/>
<text transform="translate(369.9 1660.6) scale(1 1.04)" font-size="38.5">Pyk2<tspan font-size="25.2" dy="-15.1" dx="0">f/f</tspan></text>
<text transform="translate(369.9 1706.8) scale(1 1.04)" font-size="38.5">Pyk2<tspan font-size="25.2" dy="-14.42" dx="0">f/f;D1::Cre</tspan></text>
<rect x="1081.9" y="2011.6" width="104.1" height="125.4" fill="#0a0b0a"/>
<rect x="1235.4" y="2037" width="101.1" height="98.5" fill="none" stroke="#960a00" stroke-width="2.4"/>
<line x1="1133.6" y1="1993.9" x2="1133.6" y2="2012.6" stroke="#605c5a" stroke-width="2.2" stroke-linecap="butt"/>
<line x1="1108.6" y1="1993.9" x2="1159" y2="1993.9" stroke="#605c5a" stroke-width="2.2" stroke-linecap="butt"/>
<line x1="1285.8" y1="2011.8" x2="1285.8" y2="2038" stroke="#960a00" stroke-width="2.4" stroke-linecap="butt"/>
<line x1="1260.3" y1="2011.8" x2="1311.2" y2="2011.8" stroke="#960a00" stroke-width="2.4" stroke-linecap="butt"/>
<circle cx="1122.6" cy="1883.6" r="8.6" fill="#605c5a" stroke="#4e4a48" stroke-width="0.5"/>
<circle cx="1145" cy="1893.8" r="8.6" fill="#605c5a" stroke="#4e4a48" stroke-width="0.5"/>
<circle cx="1133.8" cy="1942.2" r="8.6" fill="#605c5a" stroke="#4e4a48" stroke-width="0.5"/>
<circle cx="1122.6" cy="1963.9" r="8.6" fill="#605c5a" stroke="#4e4a48" stroke-width="0.5"/>
<circle cx="1145" cy="1982.9" r="8.6" fill="#605c5a" stroke="#4e4a48" stroke-width="0.5"/>
<circle cx="1145" cy="2013.6" r="8.6" fill="#605c5a" stroke="#4e4a48" stroke-width="0.5"/>
<circle cx="1111.6" cy="2030" r="8.6" fill="#605c5a" stroke="#4e4a48" stroke-width="0.5"/>
<circle cx="1100.1" cy="2035.8" r="8.6" fill="#605c5a" stroke="#4e4a48" stroke-width="0.5"/>
<circle cx="1122.6" cy="2043.3" r="8.6" fill="#605c5a" stroke="#4e4a48" stroke-width="0.5"/>
<circle cx="1167.5" cy="2043.3" r="8.6" fill="#605c5a" stroke="#4e4a48" stroke-width="0.5"/>
<circle cx="1145" cy="2054.5" r="8.6" fill="#605c5a" stroke="#4e4a48" stroke-width="0.5"/>
<circle cx="1111.6" cy="2094.4" r="8.6" fill="#605c5a" stroke="#4e4a48" stroke-width="0.5"/>
<circle cx="1133.8" cy="2098.2" r="8.6" fill="#605c5a" stroke="#4e4a48" stroke-width="0.5"/>
<circle cx="1156" cy="2097.7" r="8.6" fill="#605c5a" stroke="#4e4a48" stroke-width="0.5"/>
<circle cx="1285.8" cy="1861.1" r="7.5" fill="none" stroke="#960a00" stroke-width="2.3"/>
<circle cx="1285.8" cy="1922.8" r="7.5" fill="none" stroke="#960a00" stroke-width="2.3"/>
<circle cx="1297" cy="1992.1" r="7.5" fill="none" stroke="#960a00" stroke-width="2.3"/>
<circle cx="1263.3" cy="2001.6" r="7.5" fill="none" stroke="#960a00" stroke-width="2.3"/>
<circle cx="1274.5" cy="2022.1" r="7.5" fill="none" stroke="#960a00" stroke-width="2.3"/>
<circle cx="1308.2" cy="2034.5" r="7.5" fill="none" stroke="#960a00" stroke-width="2.3"/>
<circle cx="1297" cy="2052.5" r="7.5" fill="none" stroke="#960a00" stroke-width="2.3"/>
<circle cx="1274.5" cy="2057.7" r="7.5" fill="none" stroke="#960a00" stroke-width="2.3"/>
<circle cx="1274.5" cy="2088.7" r="7.5" fill="none" stroke="#960a00" stroke-width="2.3"/>
<circle cx="1297" cy="2103.9" r="7.5" fill="none" stroke="#960a00" stroke-width="2.3"/>
<circle cx="1297" cy="2142.3" r="7.5" fill="none" stroke="#960a00" stroke-width="2.3"/>
<circle cx="1274.5" cy="2163.5" r="7.5" fill="none" stroke="#960a00" stroke-width="2.3"/>
<line x1="1057.7" y1="1699.6000000000001" x2="1057.7" y2="2282.2" stroke="#0a0b0a" stroke-width="4.2" stroke-linecap="butt"/>
<line x1="1044" y1="1701.7" x2="1057.7" y2="1701.7" stroke="#0a0b0a" stroke-width="4.2" stroke-linecap="butt"/>
<line x1="1044" y1="1846.3" x2="1057.7" y2="1846.3" stroke="#0a0b0a" stroke-width="4.2" stroke-linecap="butt"/>
<line x1="1044" y1="1990.9" x2="1057.7" y2="1990.9" stroke="#0a0b0a" stroke-width="4.2" stroke-linecap="butt"/>
<line x1="1044" y1="2280.1" x2="1057.7" y2="2280.1" stroke="#0a0b0a" stroke-width="4.2" stroke-linecap="butt"/>
<line x1="1044" y1="2135.5" x2="1359.4" y2="2135.5" stroke="#0a0b0a" stroke-width="3.4" stroke-linecap="butt"/>
<text transform="translate(1030.9 1716.3) scale(1 1.04)" font-size="47.5" text-anchor="end" >600</text>
<text transform="translate(1030.9 1860.8999999999999) scale(1 1.04)" font-size="47.5" text-anchor="end" >400</text>
<text transform="translate(1030.9 2005.5) scale(1 1.04)" font-size="47.5" text-anchor="end" >200</text>
<text transform="translate(1020.3 2150.1) scale(1 1.04)" font-size="47.5" text-anchor="end" >0</text>
<text transform="translate(1033.1000000000001 2294.7) scale(1 1.04)" font-size="47.5" text-anchor="end" >-200</text>
<text transform="translate(932.8 2122.8) rotate(-90) scale(1 1.04)" font-size="47.1" text-anchor="start" >CPP score (s)</text>
<line x1="1136.1" y1="1838.7" x2="1282.8" y2="1838.7" stroke="#0a0b0a" stroke-width="3.6" stroke-linecap="butt"/>
<text transform="translate(1212.2 1827.4) scale(1 1.04)" font-size="42" text-anchor="middle" >ns</text>
<rect x="1069.2" y="1637.4" width="52.1" height="25.7" fill="#0a0b0a"/>
<rect x="1070" y="1679.9" width="50.5" height="24.1" fill="none" stroke="#960a00" stroke-width="1.7"/>
<text transform="translate(1132.7 1660.6) scale(1 1.04)" font-size="38.5">Pyk2<tspan font-size="25.2" dy="-15.1" dx="0">f/f</tspan></text>
<text transform="translate(1132.7 1706.8) scale(1 1.04)" font-size="38.5">Pyk2<tspan font-size="25.2" dy="-14.62" dx="0">f/f;A</tspan><tspan font-size="16" dy="4.81">2A</tspan><tspan font-size="25.2" dy="-4.81">::Cre</tspan></text>
</svg>
</body></html>
